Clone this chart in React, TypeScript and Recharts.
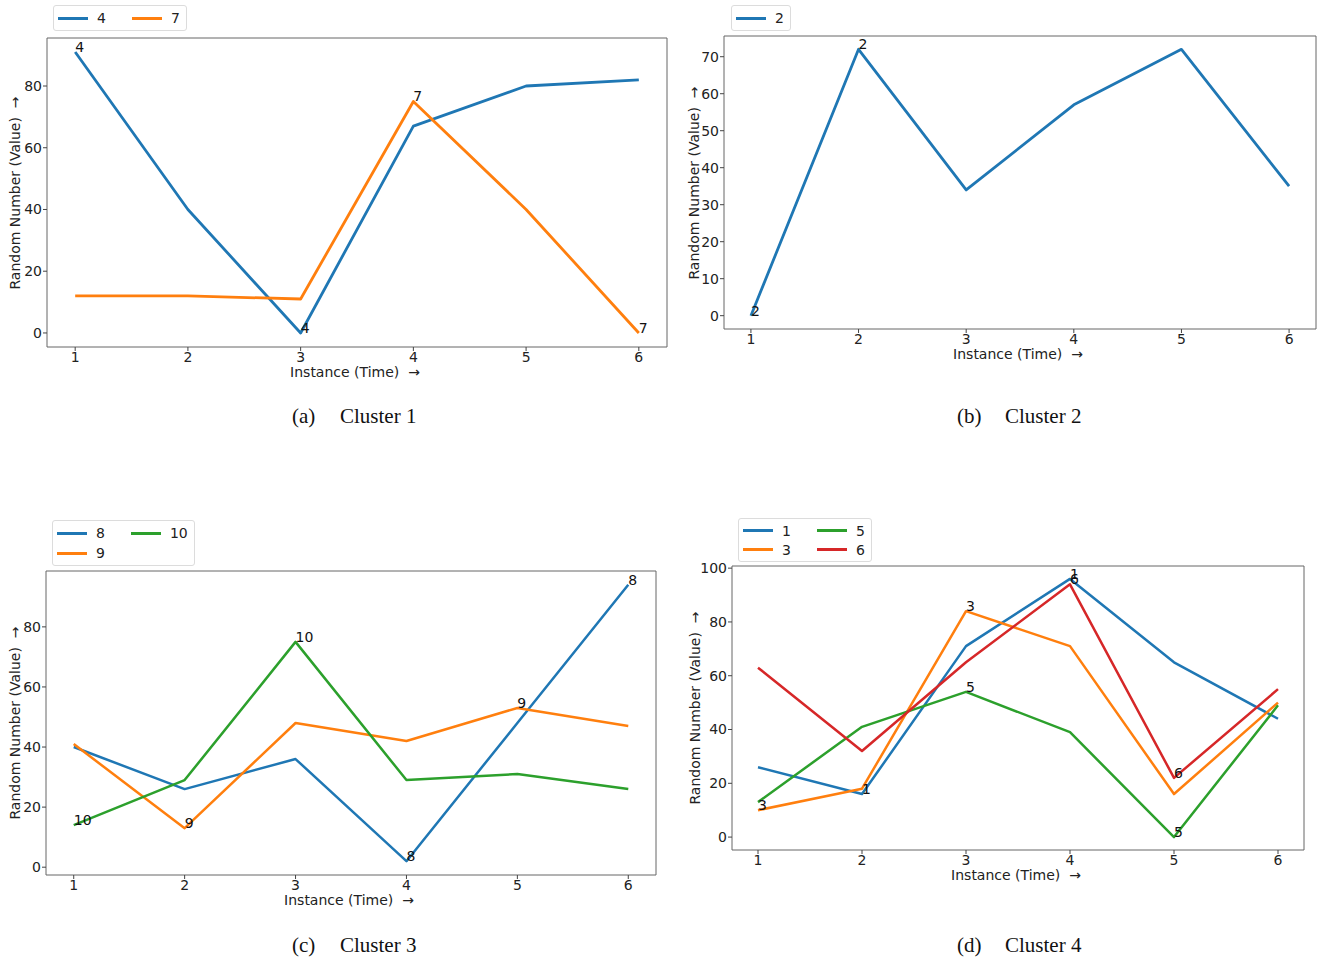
import React from "react"
import { LineChart, Line, XAxis, YAxis, ReferenceArea } from "recharts"

// x axis: instance (time)
const instances = [1, 2, 3, 4, 5, 6]
const xTicks = [1, 2, 3, 4, 5, 6]

// Cluster 1
const c1Node4 = [91, 40, 0, 67, 80, 82]
const c1Node7 = [12, 12, 11, 75, 40, 0]
const c1YTicks = [0, 20, 40, 60, 80]

// Cluster 2
const c2Node2 = [0, 72, 34, 57, 72, 35]
const c2YTicks = [0, 10, 20, 30, 40, 50, 60, 70]

// Cluster 3
const c3Node8 = [40, 26, 36, 2, 48, 94]
const c3Node9 = [41, 13, 48, 42, 53, 47]
const c3Node10 = [14, 29, 75, 29, 31, 26]
const c3YTicks = [0, 20, 40, 60, 80]

// Cluster 4
const c4Node1 = [26, 16, 71, 96, 65, 44]
const c4Node3 = [10, 18, 84, 71, 16, 50]
const c4Node5 = [13, 41, 54, 39, 0, 49]
const c4Node6 = [63, 32, 65, 94, 22, 55]
const c4YTicks = [0, 20, 40, 60, 80, 100]

const BLUE = "#1f77b4"
const ORANGE = "#ff7f0e"
const GREEN = "#2ca02c"
const RED = "#d62728"

const SANS = '"DejaVu Sans", sans-serif'
const SERIF = '"Liberation Serif", serif'
const FS = 14

type Series = { name: string; values: number[]; color: string }
type Box = { l: number; t: number; r: number; b: number }

// matplotlib-style annotation: node id written at the min and max point of each series
function annotDot(s: Series) {
  const iMax = s.values.indexOf(Math.max(...s.values))
  const iMin = s.values.indexOf(Math.min(...s.values))
  return (p: any) => {
    if (p.index !== iMax && p.index !== iMin) return <g key={`d-${s.name}-${p.index}`} />
    return (
      <text key={`d-${s.name}-${p.index}`} x={p.cx} y={p.cy} fontSize={FS} fill="#111" fontFamily={SANS}>
        {s.name}
      </text>
    )
  }
}

function SeriesLegend({ series, left, top, nrows, rowH = 20 }: { series: Series[]; left: number; top: number; nrows: number; rowH?: number }) {
  return (
    <div
      style={{
        position: "absolute",
        left,
        top,
        display: "grid",
        gridTemplateRows: `repeat(${nrows}, ${rowH}px)`,
        gridAutoFlow: "column",
        columnGap: 26,
        padding: "2px 6px 2px 4px",
        border: "1px solid #dcdcdc",
        borderRadius: 3,
        background: "#fff",
        font: `${FS}px ${SANS}`,
        color: "#222",
      }}
    >
      {series.map((s) => (
        <div key={s.name} style={{ display: "flex", alignItems: "center" }}>
          <div style={{ width: 30, height: 3, background: s.color, marginRight: 9 }} />
          <span>{s.name}</span>
        </div>
      ))}
    </div>
  )
}

interface PanelProps {
  series: Series[]
  yTicks: number[]
  box: Box
  yTitleX: number
  lineWidth: number
}

function Panel({ series, yTicks, box, yTitleX, lineWidth }: PanelProps) {
  const all = series.flatMap((s) => s.values)
  const lo = Math.min(...all)
  const hi = Math.max(...all)
  const pad = (hi - lo) * 0.05
  const yDomain: [number, number] = [lo - pad, hi + pad]

  const data = instances.map((x, i) => {
    const row: Record<string, number> = { x }
    series.forEach((s) => (row[`n${s.name}`] = s.values[i]))
    return row
  })

  const tickStyle = { fontSize: FS, fill: "#222", fontFamily: SANS }

  return (
    <>
      <div style={{ position: "absolute", left: box.l - 60, top: box.t - 10 }}>
        <LineChart
          width={box.r - box.l + 70}
          height={box.b - box.t + 40}
          data={data}
          margin={{ top: 10, right: 10, bottom: 0, left: 0 }}
        >
          <XAxis
            dataKey="x"
            type="number"
            domain={[0.75, 6.25]}
            ticks={xTicks}
            allowDataOverflow
            height={30}
            axisLine={false}
            tickLine={{ stroke: "#444" }}
            tickSize={4}
            tickMargin={1}
            tick={tickStyle}
            interval={0}
          />
          <YAxis
            type="number"
            domain={yDomain}
            ticks={yTicks}
            allowDataOverflow
            width={60}
            axisLine={false}
            tickLine={{ stroke: "#444" }}
            tickSize={4}
            tickMargin={1}
            tick={tickStyle}
            interval={0}
          />
          <ReferenceArea
            x1={0.75}
            x2={6.25}
            y1={yDomain[0]}
            y2={yDomain[1]}
            fill="none"
            stroke="#666"
            strokeWidth={1}
            ifOverflow="visible"
          />
          {series.map((s) => (
            <Line
              key={s.name}
              type="linear"
              dataKey={`n${s.name}`}
              stroke={s.color}
              strokeWidth={lineWidth}
              strokeLinejoin="round"
              dot={annotDot(s)}
              activeDot={false}
              isAnimationActive={false}
            />
          ))}
        </LineChart>
      </div>
      <div
        style={{
          position: "absolute",
          left: (box.l + box.r) / 2 - 2,
          top: box.b + 25,
          transform: "translate(-50%, -50%)",
          whiteSpace: "pre",
          font: `${FS}px ${SANS}`,
          color: "#222",
        }}
      >
        {"Instance (Time)  \u2192"}
      </div>
      <div
        style={{
          position: "absolute",
          left: yTitleX,
          top: (box.t + box.b) / 2,
          transform: "translate(-50%, -50%) rotate(-90deg)",
          whiteSpace: "pre",
          font: `${FS}px ${SANS}`,
          color: "#222",
        }}
      >
        {"Random Number (Value)  \u2192"}
      </div>
    </>
  )
}

function Caption({ left, top, tag, text }: { left: number; top: number; tag: string; text: string }) {
  return (
    <div style={{ position: "absolute", left, top, font: `21px ${SERIF}`, color: "#111", whiteSpace: "pre", lineHeight: "24px" }}>
      <span>{tag}</span>
      <span style={{ position: "absolute", left: 48 }}>{text}</span>
    </div>
  )
}

export default function App() {
  const s1: Series[] = [
    { name: "4", values: c1Node4, color: BLUE },
    { name: "7", values: c1Node7, color: ORANGE },
  ]
  const s2: Series[] = [{ name: "2", values: c2Node2, color: BLUE }]
  const s3: Series[] = [
    { name: "8", values: c3Node8, color: BLUE },
    { name: "9", values: c3Node9, color: ORANGE },
    { name: "10", values: c3Node10, color: GREEN },
  ]
  const s4: Series[] = [
    { name: "1", values: c4Node1, color: BLUE },
    { name: "3", values: c4Node3, color: ORANGE },
    { name: "5", values: c4Node5, color: GREEN },
    { name: "6", values: c4Node6, color: RED },
  ]

  return (
    <div style={{ position: "absolute", left: 0, top: 0, width: 1320, height: 960, background: "#fff", overflow: "hidden" }}>
      <Panel series={s1} yTicks={c1YTicks} box={{ l: 47, t: 38, r: 667, b: 347 }} yTitleX={15} lineWidth={2.8} />
      <SeriesLegend series={s1} left={53} top={5} nrows={1} />
      <Caption left={292} top={404} tag="(a)" text="Cluster 1" />

      <Panel series={s2} yTicks={c2YTicks} box={{ l: 724, t: 36, r: 1316, b: 329 }} yTitleX={694} lineWidth={2.8} />
      <SeriesLegend series={s2} left={731} top={5} nrows={1} />
      <Caption left={957} top={404} tag="(b)" text="Cluster 2" />

      <Panel series={s3} yTicks={c3YTicks} box={{ l: 46, t: 571, r: 656, b: 875 }} yTitleX={15} lineWidth={2.5} />
      <SeriesLegend series={s3} left={52} top={520} nrows={2} />
      <Caption left={292} top={933} tag="(c)" text="Cluster 3" />

      <Panel series={s4} yTicks={c4YTicks} box={{ l: 732, t: 566, r: 1304, b: 850 }} yTitleX={695} lineWidth={2.5} />
      <SeriesLegend series={s4} left={738} top={518} nrows={2} rowH={19} />
      <Caption left={957} top={933} tag="(d)" text="Cluster 4" />
    </div>
  )
}
